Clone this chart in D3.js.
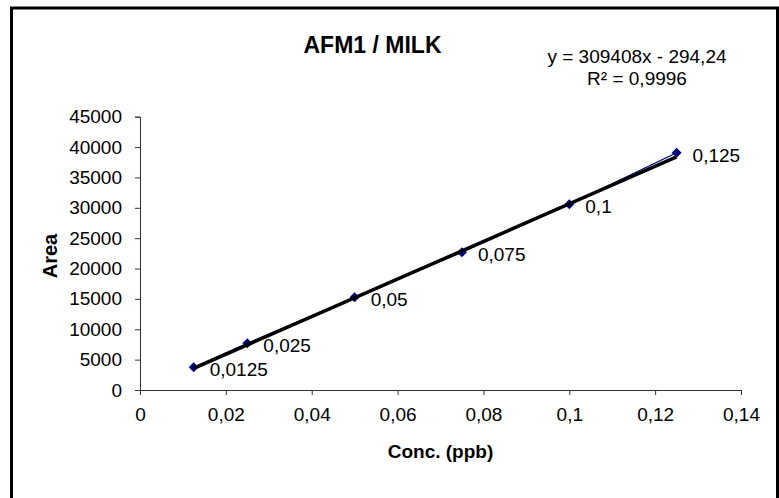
<!DOCTYPE html>
<html>
<head>
<meta charset="utf-8">
<script src="https://cdn.jsdelivr.net/npm/d3@7"></script>
<style>
  html, body { margin: 0; padding: 0; background: #fff; }
  svg { display: block; font-family: "Liberation Sans", Arial, sans-serif; }
</style>
</head>
<body>
<svg id="chart" width="779" height="498"></svg>
<script>
// ---- data ----
const concentrations = [0.0125, 0.025, 0.05, 0.075, 0.1, 0.125];
const areas = [3737, 7690, 15260, 22670, 30570, 39070];
const pointLabels = ["0,0125", "0,025", "0,05", "0,075", "0,1", "0,125"];
const xTicks = [0, 0.02, 0.04, 0.06, 0.08, 0.1, 0.12, 0.14];
const xTickLabels = ["0", "0,02", "0,04", "0,06", "0,08", "0,1", "0,12", "0,14"];
const yTicks = [0, 5000, 10000, 15000, 20000, 25000, 30000, 35000, 40000, 45000];
const trendSlope = 309408;
const trendIntercept = -294.24;
const titleText = "AFM1 / MILK";
const equationLines = ["y = 309408x - 294,24", "R² = 0,9996"];
const xTitle = "Conc. (ppb)";
const yTitle = "Area";

// ---- layout ----
const svg = d3.select("#chart");
const pLeft = 140, pRight = 741, pTop = 116.7, pBottom = 390;

svg.append("rect")
  .attr("x", 11.5).attr("y", 8).attr("width", 766).attr("height", 520)
  .attr("fill", "#fff").attr("stroke", "#000").attr("stroke-width", 3);

const x = d3.scaleLinear().domain([0, 0.14]).range([pLeft, pRight]);
const y = d3.scaleLinear().domain([0, 45000]).range([pBottom, pTop]);

// axes
const xAxis = d3.axisBottom(x).tickValues(xTicks)
  .tickFormat((d, i) => xTickLabels[i]).tickSizeOuter(0).tickSize(5).tickPadding(13);
const yAxis = d3.axisLeft(y).tickValues(yTicks)
  .tickFormat(d => String(d)).tickSizeOuter(0).tickSize(5).tickPadding(13);

const gx = svg.append("g").attr("transform", `translate(0,${pBottom})`).call(xAxis);
const gy = svg.append("g").attr("transform", `translate(${pLeft},0)`).call(yAxis);
[gx, gy].forEach(g => {
  g.selectAll("path").attr("stroke", "#333");
  g.selectAll("line").attr("stroke", "#333");
  g.selectAll("text").attr("font-size", 19).attr("fill", "#000")
    .attr("font-family", "'Liberation Sans', Arial, sans-serif");
});

// series line
const pts = concentrations.map((c, i) => ({c, a: areas[i], label: pointLabels[i]}));
svg.append("path")
  .datum(pts)
  .attr("fill", "none").attr("stroke", "#000080").attr("stroke-width", 1.2)
  .attr("d", d3.line().x(d => x(d.c)).y(d => y(d.a)));

// markers
svg.selectAll(".mk").data(pts).enter().append("path")
  .attr("class", "mk")
  .attr("d", d3.symbol(d3.symbolSquare, 50))
  .attr("transform", d => `translate(${x(d.c)},${y(d.a)}) rotate(45)`)
  .attr("fill", "#000080");

// trendline
const tx = [concentrations[0], concentrations[concentrations.length - 1]];
svg.append("path")
  .datum(tx)
  .attr("fill", "none").attr("stroke", "#000").attr("stroke-width", 3.5)
  .attr("d", d3.line().x(d => x(d)).y(d => y(trendSlope * d + trendIntercept)));

// data labels
svg.selectAll(".dl").data(pts).enter().append("text")
  .attr("class", "dl")
  .attr("x", d => x(d.c) + 16)
  .attr("y", d => y(d.a) + 9)
  .attr("font-size", 19)
  .attr("fill", "#000")
  .text(d => d.label);

// title
svg.append("text")
  .attr("x", 372.5).attr("y", 53)
  .attr("text-anchor", "middle")
  .attr("font-size", 23).attr("font-weight", "bold")
  .text(titleText);

// equation
svg.selectAll(".eq").data(equationLines).enter().append("text")
  .attr("class", "eq")
  .attr("x", 637).attr("y", (d, i) => 63 + i * 22)
  .attr("text-anchor", "middle")
  .attr("font-size", 19)
  .text(d => d);

// axis titles
svg.append("text")
  .attr("x", (pLeft + pRight) / 2).attr("y", 458)
  .attr("text-anchor", "middle")
  .attr("font-size", 19).attr("font-weight", "bold")
  .text(xTitle);

svg.append("text")
  .attr("transform", `translate(57,256) rotate(-90)`)
  .attr("text-anchor", "middle")
  .attr("font-size", 20).attr("font-weight", "bold")
  .text(yTitle);
</script>
</body>
</html>
